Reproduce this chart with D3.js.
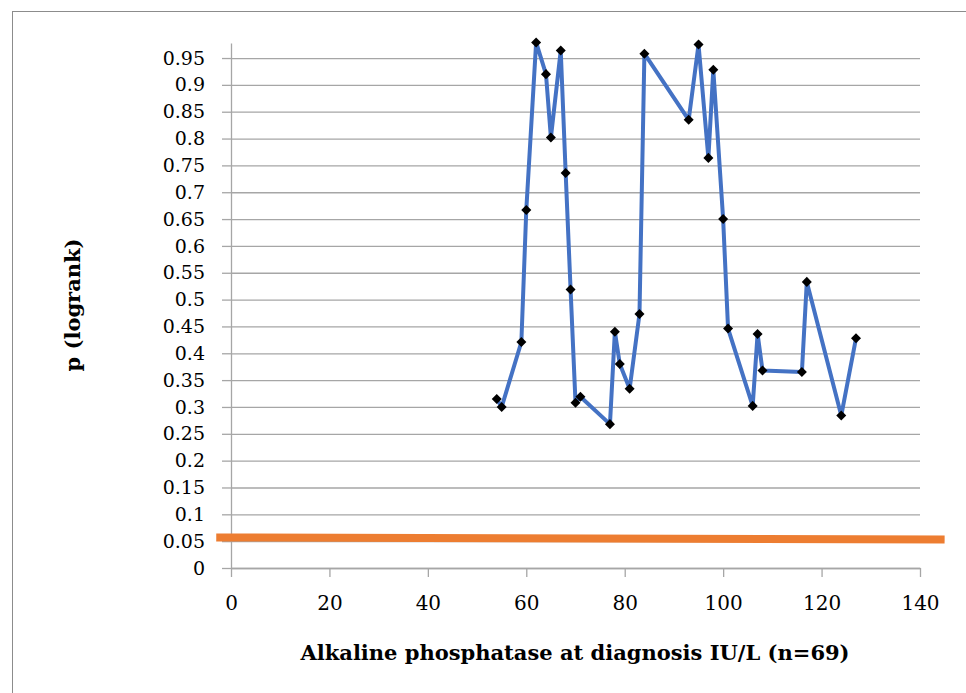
<!DOCTYPE html>
<html>
<head>
<meta charset="utf-8">
<script src="https://cdn.jsdelivr.net/npm/d3@7"></script>
<style>
  html, body { margin: 0; padding: 0; background: #fff; }
  svg { display: block; }
  text { font-family: "DejaVu Serif", "Liberation Serif", serif; fill: #000; }
</style>
</head>
<body>
<svg width="966" height="693"></svg>
<script>
// === Data

// ALP value at diagnosis (IU/L) used as cut-off, and the logrank p-value for it
const ALP_CUTOFF = [54, 55, 59, 60, 62, 64, 65, 67, 68, 69, 70, 71, 77, 78, 79, 81, 83, 84,
                    93, 95, 97, 98, 100, 101, 106, 107, 108, 116, 117, 124, 127];
const P_VALUE = [0.315, 0.300, 0.421, 0.667, 0.979, 0.920, 0.802, 0.964, 0.736, 0.519, 0.308, 0.319,
                 0.268, 0.440, 0.380, 0.334, 0.473, 0.958, 0.835, 0.975, 0.764, 0.928, 0.650, 0.446,
                 0.302, 0.436, 0.368, 0.365, 0.533, 0.284, 0.428];

// significance threshold line (p = 0.05)
const THRESHOLD_X = [-3, 145];
const THRESHOLD_Y = [0.057, 0.053];

const X_TICKS = [0, 20, 40, 60, 80, 100, 120, 140];
const Y_TICKS = [0, 0.05, 0.1, 0.15, 0.2, 0.25, 0.3, 0.35, 0.4, 0.45, 0.5,
                 0.55, 0.6, 0.65, 0.7, 0.75, 0.8, 0.85, 0.9, 0.95];

const X_LABEL = 'Alkaline phosphatase at diagnosis IU/L (n=69)';
const Y_LABEL = 'p (logrank)';


// === Config

const PLOT = { left: 231, right: 920, top: 43, bottom: 568 };
const X_MAX = 140;
const Y_MAX = 0.978;
const TICK_LEN = 9;
const GRID_COLOR = '#a6a6a6';
const LINE_COLOR = '#4472c4';
const THRESHOLD_COLOR = '#ed7d31';
const FONT = '"DejaVu Serif", serif';


// === Main

const svg = d3.select('svg');

svg.append('rect')
  .attr('width', 966).attr('height', 693)
  .attr('fill', '#fff');

// outer frame of the chart area (runs off right/bottom edges)
svg.append('rect')
  .attr('x', 12.5).attr('y', 11.5)
  .attr('width', 1200).attr('height', 1200)
  .attr('fill', 'none')
  .attr('stroke', '#8c8c8c')
  .attr('stroke-width', 1);

const x = d3.scaleLinear().domain([0, X_MAX]).range([PLOT.left, PLOT.right]);
const y = d3.scaleLinear().domain([0, Y_MAX]).range([PLOT.bottom, PLOT.top]);

// gridlines
svg.append('g')
  .attr('class', 'grid')
  .attr('transform', `translate(${PLOT.left},0)`)
  .call(d3.axisLeft(y)
    .tickValues(Y_TICKS)
    .tickSizeInner(-(PLOT.right - PLOT.left))
    .tickSizeOuter(0)
    .tickFormat(''))
  .call(g => g.select('.domain').remove())
  .call(g => g.selectAll('line')
    .attr('stroke', GRID_COLOR)
    .attr('stroke-width', 1.3));

// y axis
svg.append('g')
  .attr('class', 'y axis')
  .attr('transform', `translate(${PLOT.left},0)`)
  .call(d3.axisLeft(y)
    .tickValues(Y_TICKS)
    .tickSizeInner(TICK_LEN)
    .tickSizeOuter(0)
    .tickPadding(17)
    .tickFormat(d => String(+d.toFixed(2))))
  .call(g => g.select('.domain')
    .attr('stroke', GRID_COLOR)
    .attr('stroke-width', 1.3))
  .call(g => g.selectAll('line')
    .attr('stroke', GRID_COLOR)
    .attr('stroke-width', 1.3))
  .call(g => g.selectAll('text')
    .attr('font-family', FONT)
    .attr('font-size', 19)
    .attr('fill', '#000'));

// x axis
svg.append('g')
  .attr('class', 'x axis')
  .attr('transform', `translate(0,${PLOT.bottom})`)
  .call(d3.axisBottom(x)
    .tickValues(X_TICKS)
    .tickSizeInner(TICK_LEN)
    .tickSizeOuter(0)
    .tickPadding(19))
  .call(g => g.select('.domain')
    .attr('stroke', GRID_COLOR)
    .attr('stroke-width', 1.3))
  .call(g => g.selectAll('line')
    .attr('stroke', GRID_COLOR)
    .attr('stroke-width', 1.3))
  .call(g => g.selectAll('text')
    .attr('font-family', FONT)
    .attr('font-size', 20)
    .attr('fill', '#000'));

// threshold line
const threshold = THRESHOLD_X.map((v, i) => ({ x: v, y: THRESHOLD_Y[i] }));
svg.append('path')
  .datum(threshold)
  .attr('fill', 'none')
  .attr('stroke', THRESHOLD_COLOR)
  .attr('stroke-width', 8)
  .attr('d', d3.line().x(d => x(d.x)).y(d => y(d.y)));

// p-value series
const data = ALP_CUTOFF.map((v, i) => ({ x: v, y: P_VALUE[i] }));
svg.append('path')
  .datum(data)
  .attr('fill', 'none')
  .attr('stroke', LINE_COLOR)
  .attr('stroke-width', 4)
  .attr('stroke-linejoin', 'round')
  .attr('d', d3.line().x(d => x(d.x)).y(d => y(d.y)));

svg.append('g')
  .selectAll('path.marker')
  .data(data)
  .enter()
  .append('path')
  .attr('class', 'marker')
  .attr('transform', d => `translate(${x(d.x)},${y(d.y)})`)
  .attr('d', d3.symbol(d3.symbolDiamond2, 64)())
  .attr('fill', '#000');

// axis titles
svg.append('text')
  .attr('x', 575)
  .attr('y', 660)
  .attr('text-anchor', 'middle')
  .attr('font-family', FONT)
  .attr('font-size', 21)
  .attr('font-weight', 'bold')
  .text(X_LABEL);

svg.append('text')
  .attr('transform', 'translate(80,305) rotate(-90)')
  .attr('text-anchor', 'middle')
  .attr('font-family', FONT)
  .attr('font-size', 21)
  .attr('font-weight', 'bold')
  .text(Y_LABEL);
</script>
</body>
</html>
